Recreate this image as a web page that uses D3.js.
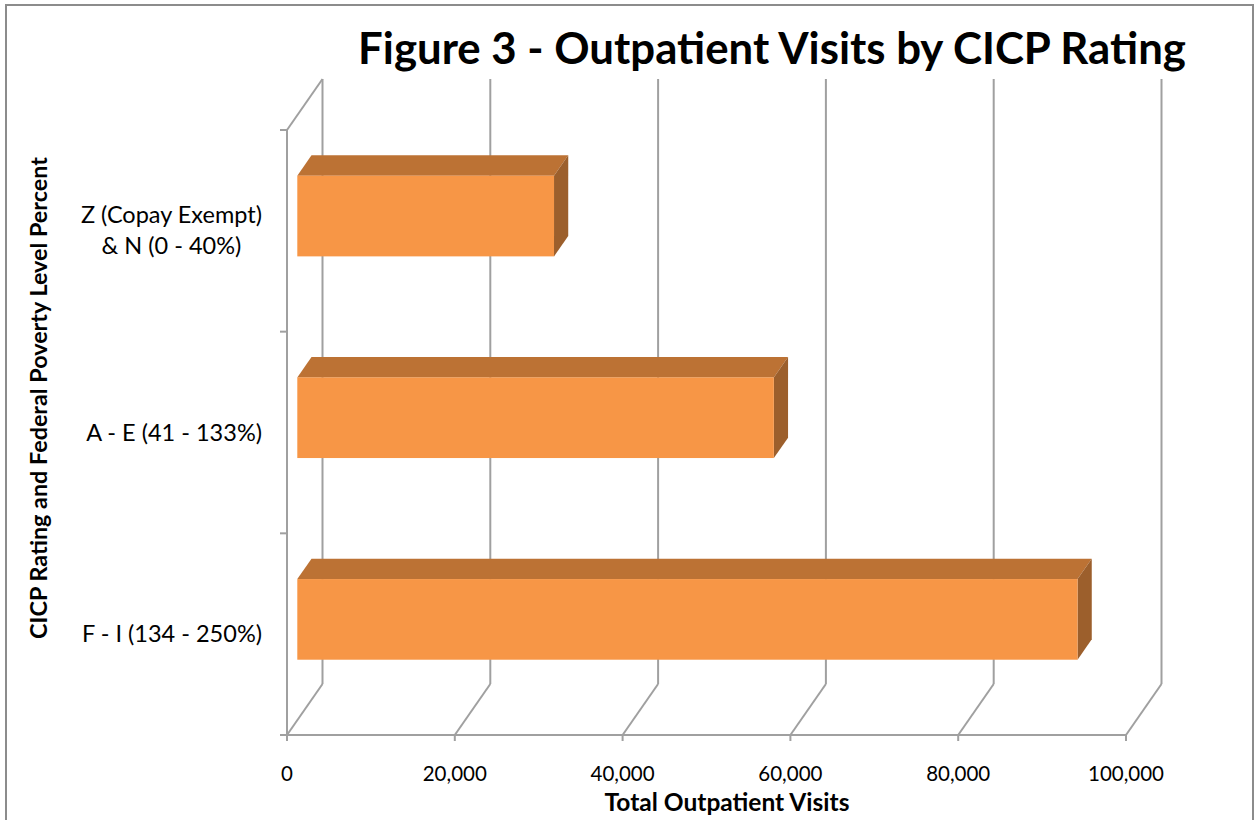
<!DOCTYPE html>
<html><head><meta charset="utf-8">
<script src="https://cdn.jsdelivr.net/npm/d3@7"></script>
<style>body{margin:0;background:#fff;} svg{display:block;}</style>
</head><body>
<svg id="chart" width="1255" height="820"></svg>
<script>
const categories = ["Z (Copay Exempt)\n& N (0 - 40%)", "A - E (41 - 133%)", "F - I (134 - 250%)"];
const values = [30600, 56800, 93000];
const xTicks = [0, 20000, 40000, 60000, 80000, 100000];
const title = "Figure 3 - Outpatient Visits by CICP Rating";
const xTitle = "Total Outpatient Visits";
const yTitle = "CICP Rating and Federal Poverty Level Percent";

const FONT = "Lato, 'Open Sans', sans-serif";
const svg = d3.select("#chart");

function fitWidth(sel, target) {
  const base = +sel.attr("font-size");
  const w = sel.node().getComputedTextLength();
  if (w > 0) sel.attr("font-size", base * target / w);
  return sel;
}

svg.append("rect").attr("x", 6).attr("y", 5).attr("width", 1247).attr("height", 830)
  .attr("fill", "#fff").attr("stroke", "#8c8c8c").attr("stroke-width", 2);

const x = d3.scaleLinear().domain([0, 100000]).range([287, 1126]);
const y = d3.scaleBand().domain(d3.range(categories.length)).range([130, 735])
  .paddingInner(0.6).paddingOuter(0.3);
const D = [35.5, -51];
const fFront = 0.29, fBack = 0.69;
const grid = "#a0a0a0";

const g = svg.append("g");
xTicks.forEach(t => {
  g.append("line").attr("x1", x(t) + D[0]).attr("x2", x(t) + D[0])
    .attr("y1", 130 + D[1]).attr("y2", 735 + D[1]).attr("stroke", grid).attr("stroke-width", 2);
  g.append("line").attr("x1", x(t)).attr("y1", 735).attr("x2", x(t) + D[0]).attr("y2", 735 + D[1])
    .attr("stroke", grid).attr("stroke-width", 2);
  g.append("line").attr("x1", x(t)).attr("x2", x(t)).attr("y1", 735).attr("y2", 741)
    .attr("stroke", grid).attr("stroke-width", 2);
});
g.append("line").attr("x1", 287).attr("y1", 130).attr("x2", 287 + D[0]).attr("y2", 130 + D[1])
  .attr("stroke", grid).attr("stroke-width", 2);
g.append("line").attr("x1", 287).attr("y1", 130).attr("x2", 287).attr("y2", 735)
  .attr("stroke", grid).attr("stroke-width", 2);
g.append("line").attr("x1", 287).attr("y1", 735).attr("x2", 1126).attr("y2", 735)
  .attr("stroke", grid).attr("stroke-width", 2);
const yEdges = [130].concat(categories.map((c, i) => 130 + (i + 1) * y.step()));
yEdges.forEach(v => g.append("line").attr("x1", 280).attr("x2", 287).attr("y1", v).attr("y2", v)
  .attr("stroke", grid).attr("stroke-width", 2));

const bars = g.selectAll("g.bar").data(values).join("g").attr("class", "bar");
bars.each(function(v, i) {
  const b = d3.select(this);
  const x0 = x(0) + fFront * D[0], x1 = x(v) + fFront * D[0];
  const y0 = y(i) + fFront * D[1], y1 = y0 + y.bandwidth();
  const dx = (fBack - fFront) * D[0], dy = (fBack - fFront) * D[1];
  b.append("path").attr("d", `M${x0},${y0}L${x0+dx},${y0+dy}L${x1+dx},${y0+dy}L${x1},${y0}Z`)
    .attr("fill", "#BC7234");
  b.append("path").attr("d", `M${x1},${y0}L${x1+dx},${y0+dy}L${x1+dx},${y1+dy}L${x1},${y1}Z`)
    .attr("fill", "#9C5F2C");
  b.append("rect").attr("x", x0).attr("y", y0).attr("width", x1 - x0).attr("height", y1 - y0)
    .attr("fill", "#F79646");
});

const LFS = 23.5;
categories.forEach((c, i) => {
  const lines = c.split("\n");
  const cy = y(i) + y.bandwidth() / 2;
  const t = svg.append("text").attr("class", "cat").attr("font-family", FONT)
    .attr("font-size", LFS).attr("fill", "#000");
  const lh = 31;
  lines.forEach((l, k) => {
    t.append("tspan").attr("x", 262).attr("text-anchor", "end")
      .attr("y", cy + (k - (lines.length - 1) / 2) * lh + 8).text(l);
  });
  if (lines.length > 1) {
    let maxW = 0;
    t.selectAll("tspan").each(function() { maxW = Math.max(maxW, this.getComputedTextLength()); });
    t.selectAll("tspan").attr("text-anchor", "middle").attr("x", 262 - maxW / 2);
  }
});

xTicks.forEach(t => svg.append("text").attr("x", x(t)).attr("y", 781).attr("text-anchor", "middle")
  .attr("font-family", FONT).attr("font-size", 20.5).attr("fill", "#000").text(d3.format(",")(t)));

fitWidth(svg.append("text").attr("x", 772).attr("y", 64).attr("text-anchor", "middle")
  .attr("font-family", FONT).attr("font-weight", "bold").attr("font-size", 40).attr("fill", "#000")
  .text(title), 828);
fitWidth(svg.append("text").attr("x", 727).attr("y", 811).attr("text-anchor", "middle")
  .attr("font-family", FONT).attr("font-weight", "bold").attr("font-size", 18).attr("fill", "#000")
  .text(xTitle), 245);
fitWidth(svg.append("text").attr("transform", "translate(47,398) rotate(-90)").attr("text-anchor", "middle")
  .attr("font-family", FONT).attr("font-weight", "bold").attr("font-size", 18).attr("fill", "#000")
  .text(yTitle), 482);
</script>
</body></html>
